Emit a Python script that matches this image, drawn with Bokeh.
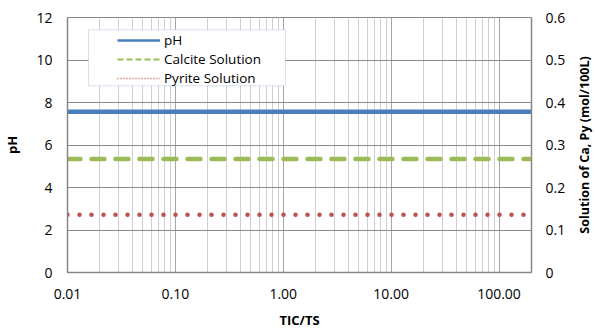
import math
from bokeh.plotting import figure
from bokeh.layouts import row
from bokeh.models import (LinearAxis, Range1d, FixedTicker, NumeralTickFormatter,
                          CustomJSTickFormatter, Legend, LegendItem, BoxAnnotation)
from bokeh.embed import file_html
from bokeh.resources import INLINE

# ---- data ----
tic_ts = [0.01, 200]
ph_values = [7.56, 7.56]
calcite_solution = [0.267, 0.267]
pyrite_solution = [0.136, 0.136]

x_major_ticks = [0.01, 0.1, 1, 10, 100]
x_minor_ticks = [m * d for d in (0.01, 0.1, 1, 10) for m in range(2, 10)]
left_ticks = [0, 2, 4, 6, 8, 10, 12]
right_ticks = [0, 0.1, 0.2, 0.3, 0.4, 0.5, 0.6]

FONT = "Open Sans"
GRAY = "#868686"

p = figure(width=568, height=334, x_axis_type="log",
           x_range=(0.01, 200), y_range=(0, 12),
           output_backend="svg", toolbar_location=None,
           min_border_left=67, min_border_top=17,
           min_border_right=37, min_border_bottom=62)
p.extra_y_ranges = {"conc": Range1d(0, 0.6)}
p.outline_line_color = GRAY
p.outline_line_width = 1
p.background_fill_color = "white"
p.border_fill_color = "white"

# grid
p.xgrid.ticker = FixedTicker(ticks=x_major_ticks, minor_ticks=x_minor_ticks)
p.xgrid.grid_line_color = "#a6a6a6"
p.xgrid.minor_grid_line_color = "#cfcfcf"
p.ygrid.ticker = FixedTicker(ticks=left_ticks)
p.ygrid.grid_line_color = "#8c8c8c"

# axes
xa = p.xaxis[0]
xa.ticker = FixedTicker(ticks=x_major_ticks, minor_ticks=x_minor_ticks)
xa.formatter = NumeralTickFormatter(format="0.00")
xa.axis_label = "TIC/TS"
ya = p.yaxis[0]
ya.ticker = FixedTicker(ticks=left_ticks)
ya.axis_label = "pH"

ra = LinearAxis(y_range_name="conc", ticker=FixedTicker(ticks=right_ticks),
                formatter=CustomJSTickFormatter(code="return tick == 0 ? '0' : tick.toFixed(1);"))
p.add_layout(ra, "right")

for ax in (xa, ya, ra):
    ax.axis_line_color = GRAY
    ax.axis_line_width = 1.5
    ax.major_tick_line_color = None
    ax.minor_tick_line_color = None
    ax.major_tick_out = 0
    ax.major_tick_in = 0
    ax.minor_tick_out = 0
    ax.minor_tick_in = 0
    ax.major_label_text_font = FONT
    ax.major_label_text_font_size = "14px"
    ax.major_label_text_color = "#000000"
    ax.axis_label_text_font = FONT
    ax.axis_label_text_font_style = "bold"
    ax.axis_label_text_font_size = "13px"
    ax.axis_label_text_color = "#000000"

xa.major_label_standoff = 16
xa.axis_label_standoff = 9
ya.major_label_standoff = 15
ya.axis_label_standoff = 12
ra.major_label_standoff = 14

# data lines
p.line(tic_ts, ph_values, line_color="#4a7ebb", line_width=4.5)
p.line(tic_ts, calcite_solution, y_range_name="conc", line_color="#9bbb59",
       line_width=4.5, line_dash="13 11", line_cap="round")
p.line(tic_ts, pyrite_solution, y_range_name="conc", line_color="#c0504d",
       line_width=4.5, line_dash="0 12", line_cap="round")

# legend proxies (thin samples as in the reference legend)
nan = [float("nan")]
one = [1.0]
lg_ph = p.line(one, nan, line_color="#4a7ebb", line_width=2.5)
lg_ca = p.line(one, nan, line_color="#9bbb59", line_width=2, line_dash="6 3")
lg_py = p.line(one, nan, line_color="#c0504d", line_width=1.5, line_dash="1 2")

box = BoxAnnotation(left=88, right=285, top=29.3, bottom=85.3,
                    left_units="canvas", right_units="canvas",
                    top_units="canvas", bottom_units="canvas",
                    fill_color="white", fill_alpha=1.0,
                    line_color="#7a9cc9", line_width=1)
p.add_layout(box)

legend = Legend(items=[LegendItem(label="pH", renderers=[lg_ph]),
                       LegendItem(label="Calcite Solution", renderers=[lg_ca]),
                       LegendItem(label="Pyrite Solution", renderers=[lg_py])],
                location=(50, 185), padding=0, margin=0, spacing=1,
                glyph_width=43, glyph_height=18, label_height=18,
                label_standoff=4, border_line_alpha=0, background_fill_alpha=0,
                label_text_font=FONT, label_text_font_size="13.5px",
                label_text_color="#000000")
p.add_layout(legend)

# narrow companion figure carrying the secondary-axis title (reads bottom-to-top)
side = figure(width=27, height=334, y_range=(0, 12), x_range=(0, 1),
              output_backend="svg", toolbar_location=None,
              min_border_left=26, min_border_right=0,
              min_border_top=17, min_border_bottom=62)
side.outline_line_color = None
side.background_fill_color = "white"
side.border_fill_color = "white"
side.grid.visible = False
side.xaxis.visible = False
sa = side.yaxis[0]
sa.ticker = FixedTicker(ticks=[])
sa.axis_line_color = None
sa.major_tick_out = 0
sa.major_tick_in = 0
sa.minor_tick_out = 0
sa.minor_tick_in = 0
sa.major_label_standoff = 0
sa.axis_label = "Solution of Ca, Py (mol/100L)"
sa.axis_label_standoff = 2
sa.axis_label_text_font = FONT
sa.axis_label_text_font_style = "bold"
sa.axis_label_text_font_size = "12.5px"
sa.axis_label_text_color = "#000000"

layout = row(p, side)
open("out.html", "w").write(file_html(layout, INLINE))
